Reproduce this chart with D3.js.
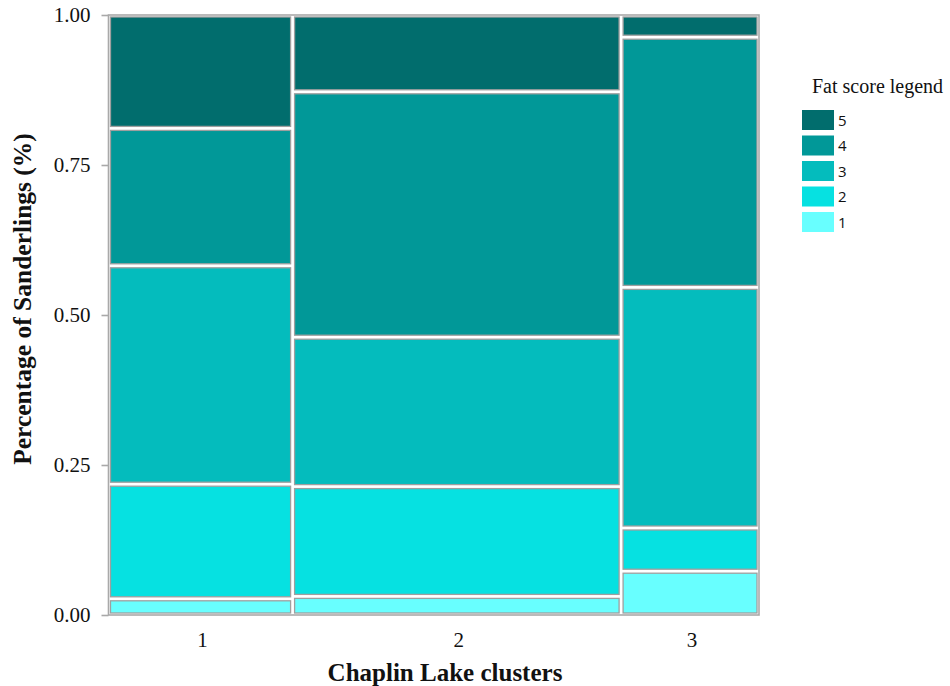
<!DOCTYPE html>
<html>
<head>
<meta charset="utf-8">
<script src="https://cdn.jsdelivr.net/npm/d3@7"></script>
<style>
  html, body { margin: 0; padding: 0; background: #fff; }
  svg { display: block; }
</style>
</head>
<body>
<svg id="chart" width="950" height="686"></svg>
<script>
// Chaplin Lake clusters and their share of all birds (column widths)
const clusters = ["1", "2", "3"];
const clusterShare = [0.283, 0.505, 0.212];

// Fat scores, stacked from bottom (1) to top (5)
const fatScores = ["1", "2", "3", "4", "5"];

// Proportion of sanderlings in each fat score, per cluster
const cluster1 = [0.027, 0.191, 0.364, 0.229, 0.189];
const cluster2 = [0.031, 0.183, 0.249, 0.409, 0.128];
const cluster3 = [0.073, 0.072, 0.401, 0.417, 0.037];
const clusterValues = [cluster1, cluster2, cluster3];

const yTicks = [0, 0.25, 0.5, 0.75, 1];
const scoreColors = ["#68ffff", "#06e1e1", "#04bcbd", "#019898", "#016d6d"];

const svg = d3.select("#chart");
const margin = { left: 108.5, right: 759, top: 15, bottom: 615 };

const x = d3.scaleLinear().domain([0, 1]).range([margin.left, margin.right]);
const y = d3.scaleLinear().domain([0, 1]).range([margin.bottom, margin.top]);
const color = d3.scaleOrdinal().domain(fatScores).range(scoreColors);

// Build the mosaic tiles: columns by cluster, stacked segments by fat score
const xStarts = d3.cumsum([0, ...clusterShare]);
const tiles = [];
clusters.forEach((c, i) => {
  const cum = d3.cumsum([0, ...clusterValues[i]]);
  fatScores.forEach((s, j) => {
    tiles.push({
      cluster: c, score: s,
      x0: xStarts[i], x1: xStarts[i + 1],
      y0: cum[j], y1: j === fatScores.length - 1 ? 1 : cum[j + 1]
    });
  });
});

const gap = 2;
svg.append("g").selectAll("rect")
  .data(tiles)
  .join("rect")
  .attr("x", d => x(d.x0) + gap)
  .attr("y", d => y(d.y1) + gap)
  .attr("width", d => x(d.x1) - x(d.x0) - 2 * gap)
  .attr("height", d => y(d.y0) - y(d.y1) - 2 * gap)
  .attr("fill", d => color(d.score))
  .attr("stroke", "#9f9f9f")
  .attr("stroke-width", 1.3);

// Panel border
svg.append("rect")
  .attr("x", margin.left)
  .attr("y", margin.top)
  .attr("width", margin.right - margin.left)
  .attr("height", margin.bottom - margin.top)
  .attr("fill", "none")
  .attr("stroke", "#a9a9a9")
  .attr("stroke-width", 1.6);

// Y axis
const yAxis = d3.axisLeft(y)
  .tickValues(yTicks)
  .tickFormat(d3.format(".2f"))
  .tickSize(7)
  .tickPadding(11);
const gy = svg.append("g")
  .attr("transform", `translate(${margin.left},0)`)
  .call(yAxis);
gy.select(".domain").remove();
gy.selectAll(".tick line").attr("stroke", "#a9a9a9").attr("stroke-width", 1.6);
gy.selectAll(".tick text")
  .attr("fill", "#111")
  .style("font-family", "'Liberation Serif', 'Times New Roman', serif")
  .style("font-size", "21px");

// X axis labels, centred on each cluster column
const xMid = clusters.map((c, i) => (xStarts[i] + xStarts[i + 1]) / 2);
svg.append("g").selectAll("text")
  .data(clusters)
  .join("text")
  .attr("x", (d, i) => x(xMid[i]) + 2)
  .attr("y", 647)
  .attr("text-anchor", "middle")
  .attr("fill", "#111")
  .style("font-family", "'Liberation Serif', 'Times New Roman', serif")
  .style("font-size", "21px")
  .text(d => d);

// Axis titles
svg.append("text")
  .attr("x", 445)
  .attr("y", 681)
  .attr("text-anchor", "middle")
  .attr("fill", "#111")
  .style("font-family", "'Liberation Serif', 'Times New Roman', serif")
  .style("font-size", "25px")
  .style("font-weight", "bold")
  .text("Chaplin Lake clusters");

svg.append("text")
  .attr("transform", "translate(31,299) rotate(-90)")
  .attr("text-anchor", "middle")
  .attr("fill", "#111")
  .style("font-family", "'Liberation Serif', 'Times New Roman', serif")
  .style("font-size", "25.5px")
  .style("font-weight", "bold")
  .text("Percentage of Sanderlings (%)");

// Legend
const legend = svg.append("g");
legend.append("text")
  .attr("x", 812)
  .attr("y", 93)
  .attr("fill", "#111")
  .style("font-family", "'Liberation Serif', 'Times New Roman', serif")
  .style("font-size", "20px")
  .text("Fat score legend");

const legendOrder = fatScores.slice().reverse();
const items = legend.selectAll("g.item")
  .data(legendOrder)
  .join("g")
  .attr("class", "item")
  .attr("transform", (d, i) => `translate(802,${110 + i * 25.5})`);
items.append("rect")
  .attr("width", 32)
  .attr("height", 20)
  .attr("fill", d => color(d));
items.append("text")
  .attr("x", 36)
  .attr("y", 15.5)
  .attr("fill", "#111")
  .style("font-family", "'Open Sans', 'DejaVu Sans', sans-serif")
  .style("font-size", "15px")
  .text(d => d);
</script>
</body>
</html>
